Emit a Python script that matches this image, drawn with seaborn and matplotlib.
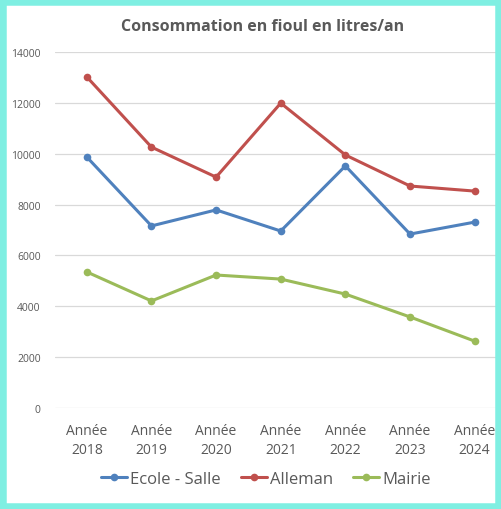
import matplotlib
matplotlib.use("Agg")
import matplotlib.pyplot as plt
import seaborn as sns
import pandas as pd
from matplotlib.patches import Rectangle
from matplotlib.lines import Line2D

years = ["Année\n2018", "Année\n2019", "Année\n2020", "Année\n2021", "Année\n2022", "Année\n2023", "Année\n2024"]
ecole_salle = [9870, 7160, 7790, 6960, 9520, 6840, 7310]
alleman = [13020, 10260, 9080, 11990, 9950, 8730, 8530]
mairie = [5350, 4210, 5230, 5070, 4480, 3580, 2630]
series_names = ["Ecole - Salle", "Alleman", "Mairie"]
colors = ["#4F81BD", "#C0504D", "#9BBB59"]
y_ticks = [0, 2000, 4000, 6000, 8000, 10000, 12000, 14000]

rows = []
for name, vals in zip(series_names, [ecole_salle, alleman, mairie]):
    for i, v in enumerate(vals):
        rows.append({"x": i, "year": years[i], "value": v, "serie": name})
df = pd.DataFrame(rows)

sns.set_style("white")
plt.rcParams['font.family'] = ['Open Sans', 'DejaVu Sans']

fig = plt.figure(figsize=(5.01, 5.10), dpi=100)
fig.patch.set_facecolor("white")
W, H = 501, 510
left_px, right_px, top_px, bot_px = 54.5, 507, 53, 409
ax = fig.add_axes([left_px / W, (H - bot_px) / H, (right_px - left_px) / W, (bot_px - top_px) / H])

sns.lineplot(data=df, x="x", y="value", hue="serie", hue_order=series_names,
             palette=colors, marker="o", markersize=5.5, markeredgewidth=0,
             linewidth=2.2, ax=ax, legend=False, clip_on=False, zorder=3)

ax.set_xlim(-0.5, 6.5)
ax.set_ylim(0, 14000)
ax.set_yticks(y_ticks)
ax.set_yticklabels([str(t) for t in y_ticks])
ax.set_xticks(range(len(years)))
ax.set_xticklabels(years, linespacing=1.35)
ax.grid(axis="y", color="#D9D9D9", linewidth=0.9)
ax.set_axisbelow(True)
for s in ax.spines.values():
    s.set_visible(False)
ax.tick_params(axis="y", length=0, pad=10, labelsize=7.5, labelcolor="#595959")
ax.tick_params(axis="x", length=0, pad=11, labelsize=10, labelcolor="#595959")
ax.set_xlabel("")
ax.set_ylabel("")

fig.text(263 / W, 1 - 27 / H, "Consommation en fioul en litres/an", ha="center", va="center",
         fontsize=11.5, fontweight="bold", color="#595959")

handles = [Line2D([0], [0], color=c, lw=2.2, marker="o", markersize=5.5, markeredgewidth=0) for c in colors]
fig.legend(handles, series_names, loc="center", bbox_to_anchor=(266 / W, 1 - 480 / H), ncol=3,
           frameon=False, fontsize=12, labelcolor="#595959", handlelength=1.55, handletextpad=0.2,
           columnspacing=1.2)

fig.patches.append(Rectangle((0, 0), 1, 1, transform=fig.transFigure, fill=False,
                             edgecolor="#7FEFE2", linewidth=9, zorder=10))

fig.savefig("out.png", dpi=100)
